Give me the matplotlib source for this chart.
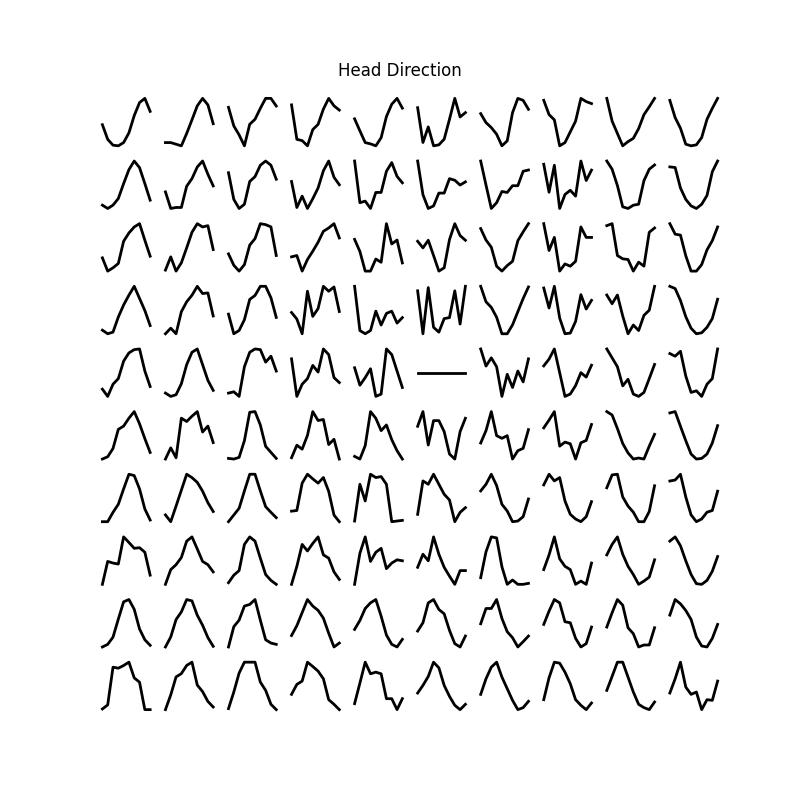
import numpy as np
import matplotlib
matplotlib.use("Agg")
import matplotlib.pyplot as plt

# === 1. Datos: curvas de direccion de cabeza (10 bins angulares por celda) ===
angle_bins = np.arange(10) * 36

row0 = [
    [67, 22, 4, 2, 12, 42, 95, 135, 148, 108],
    [12, 12, 7, 2, 40, 82, 125, 148, 128, 70],
    [118, 62, 35, 2, 67, 82, 115, 145, 145, 122],
    [128, 22, 18, 2, 52, 68, 115, 148, 125, 112],
    [85, 48, 12, 8, 2, 27, 92, 130, 148, 118],
    [120, 15, 62, 5, 8, 25, 85, 148, 92, 105],
    [102, 75, 60, 40, 5, 20, 105, 148, 142, 115],
    [142, 98, 82, 2, 12, 45, 78, 148, 138, 132],
    [148, 78, 40, 2, 15, 25, 55, 98, 122, 148],
    [142, 90, 58, 10, 5, 8, 30, 85, 118, 148],
]
row1 = [
    [15, 5, 15, 35, 80, 122, 148, 128, 80, 30],
    [55, 5, 8, 8, 72, 95, 130, 148, 108, 73],
    [112, 30, 2, 15, 85, 100, 135, 148, 135, 92],
    [85, 5, 40, 2, 32, 65, 118, 148, 98, 75],
    [150, 20, 25, 2, 52, 52, 118, 145, 102, 82],
    [150, 45, 2, 10, 50, 50, 95, 90, 75, 85],
    [150, 75, 2, 20, 55, 52, 73, 73, 118, 122],
    [138, 52, 135, 2, 45, 58, 40, 148, 88, 120],
    [150, 125, 75, 10, 5, 15, 18, 90, 125, 138],
    [130, 128, 65, 30, 10, 2, 15, 42, 115, 148],
]
row2 = [
    [45, 5, 15, 28, 95, 120, 138, 148, 98, 50],
    [8, 48, 5, 30, 75, 122, 148, 138, 142, 70],
    [55, 20, 2, 22, 82, 102, 148, 145, 138, 50],
    [48, 52, 5, 40, 65, 92, 125, 135, 148, 105],
    [102, 65, 5, 5, 42, 32, 150, 88, 100, 30],
    [95, 75, 98, 52, 5, 15, 100, 148, 112, 98],
    [135, 100, 78, 20, 5, 22, 35, 98, 125, 150],
    [150, 68, 108, 5, 27, 20, 35, 140, 108, 108],
    [142, 148, 52, 42, 40, 5, 32, 20, 122, 135],
    [150, 118, 115, 52, 5, 5, 25, 70, 98, 140],
]
row3 = [
    [18, 7, 12, 58, 95, 125, 152, 115, 78, 32],
    [8, 25, 8, 75, 105, 125, 152, 130, 132, 62],
    [65, 5, 15, 48, 110, 122, 150, 150, 115, 55],
    [70, 50, 5, 135, 58, 82, 150, 135, 148, 73],
    [152, 15, 5, 15, 75, 32, 68, 75, 38, 55],
    [138, 5, 148, 25, 10, 52, 55, 138, 35, 152],
    [152, 105, 88, 58, 8, 8, 35, 75, 115, 150],
    [145, 85, 150, 55, 8, 10, 45, 125, 82, 108],
    [125, 98, 125, 60, 5, 32, 15, 62, 78, 152],
    [152, 145, 108, 58, 22, 5, 8, 25, 52, 112],
]
row4 = [
    [30, 8, 45, 62, 115, 140, 150, 152, 85, 38],
    [20, 10, 15, 48, 105, 142, 152, 105, 58, 28],
    [18, 22, 8, 98, 142, 152, 150, 112, 130, 85],
    [122, 8, 45, 62, 102, 82, 152, 135, 65, 50],
    [95, 42, 65, 92, 8, 15, 152, 135, 85, 35],
    [0, 0, 0, 0, 0, 0, 0, 0, 0, 0],
    [152, 100, 125, 98, 8, 75, 35, 85, 52, 122],
    [98, 118, 148, 78, 8, 15, 40, 78, 65, 100],
    [152, 125, 98, 40, 60, 15, 8, 20, 62, 105],
    [138, 130, 145, 70, 20, 25, 8, 45, 62, 152],
]
row5 = [
    [8, 15, 40, 98, 108, 132, 152, 115, 70, 28],
    [8, 42, 12, 132, 122, 138, 152, 90, 108, 58],
    [12, 10, 15, 65, 150, 152, 112, 48, 30, 12],
    [12, 50, 38, 80, 152, 125, 128, 52, 68, 8],
    [18, 10, 50, 152, 132, 95, 112, 68, 35, 10],
    [108, 152, 52, 125, 125, 92, 25, 10, 92, 132],
    [58, 95, 152, 80, 72, 80, 10, 35, 42, 98],
    [102, 125, 150, 48, 60, 55, 10, 58, 65, 112],
    [152, 142, 102, 58, 30, 12, 15, 12, 50, 85],
    [148, 152, 108, 65, 25, 10, 12, 25, 58, 110],
]
row6 = [
    [10, 10, 38, 62, 108, 152, 148, 108, 48, 15],
    [32, 12, 58, 105, 152, 142, 128, 102, 68, 42],
    [10, 30, 50, 102, 152, 152, 102, 55, 38, 22],
    [40, 42, 125, 152, 138, 125, 142, 100, 28, 8],
    [12, 122, 72, 152, 142, 145, 122, 10, 12, 14],
    [32, 132, 122, 152, 122, 92, 75, 10, 38, 52],
    [102, 122, 152, 118, 62, 42, 10, 12, 25, 78],
    [120, 152, 132, 142, 72, 32, 18, 10, 25, 70],
    [112, 150, 152, 85, 58, 40, 12, 12, 42, 118],
    [132, 135, 152, 85, 32, 12, 20, 40, 45, 102],
]
row7 = [
    [10, 80, 75, 72, 155, 138, 120, 122, 108, 38],
    [10, 55, 70, 92, 142, 155, 118, 80, 70, 48],
    [15, 38, 52, 132, 155, 142, 90, 40, 22, 10],
    [10, 65, 132, 112, 135, 155, 100, 90, 48, 25],
    [10, 105, 155, 80, 108, 120, 58, 75, 85, 82],
    [62, 102, 82, 155, 102, 62, 35, 10, 52, 52],
    [32, 110, 155, 152, 65, 12, 25, 12, 12, 15],
    [55, 100, 155, 88, 65, 55, 10, 20, 10, 75],
    [100, 132, 155, 102, 65, 40, 10, 20, 32, 85],
    [142, 155, 128, 82, 40, 12, 10, 22, 50, 95],
]
row8 = [
    [10, 18, 40, 95, 148, 155, 125, 65, 32, 15],
    [10, 40, 92, 115, 152, 148, 105, 75, 38, 12],
    [10, 72, 92, 135, 140, 155, 92, 32, 22, 18],
    [45, 75, 115, 155, 135, 122, 98, 52, 10, 22],
    [65, 92, 128, 145, 155, 105, 48, 20, 12, 35],
    [60, 85, 145, 155, 125, 112, 62, 22, 12, 45],
    [82, 128, 128, 155, 98, 58, 40, 12, 28, 45],
    [80, 120, 155, 145, 88, 85, 38, 12, 22, 72],
    [72, 115, 155, 138, 70, 52, 12, 18, 18, 70],
    [108, 155, 142, 122, 95, 42, 15, 12, 38, 80],
]
row9 = [
    [15, 27, 140, 137, 145, 155, 108, 95, 13, 13],
    [10, 55, 110, 120, 145, 155, 85, 65, 35, 18],
    [15, 65, 122, 155, 155, 155, 95, 70, 28, 12],
    [58, 88, 98, 155, 142, 128, 105, 42, 28, 12],
    [30, 92, 155, 120, 125, 120, 45, 45, 12, 45],
    [62, 85, 112, 155, 138, 85, 52, 25, 12, 28],
    [58, 105, 140, 155, 110, 75, 40, 12, 18, 37],
    [42, 108, 155, 152, 125, 90, 42, 25, 12, 32],
    [70, 112, 155, 155, 110, 65, 28, 18, 12, 35],
    [62, 105, 155, 80, 58, 65, 12, 42, 40, 98],
]

rows = [row0, row1, row2, row3, row4, row5, row6, row7, row8, row9]

# === 2. Crear la figura ===
fig, axes = plt.subplots(10, 10, figsize=(8, 8), dpi=100)

for i, row in enumerate(rows):
    for j, curve in enumerate(row):
        ax = axes[i, j]
        ax.plot(angle_bins, curve, color="black", linewidth=2)
        ax.axis("off")

fig.suptitle("Head Direction", y=0.923)

# === 3. Guardar ===
plt.savefig("out.png")
plt.close()
